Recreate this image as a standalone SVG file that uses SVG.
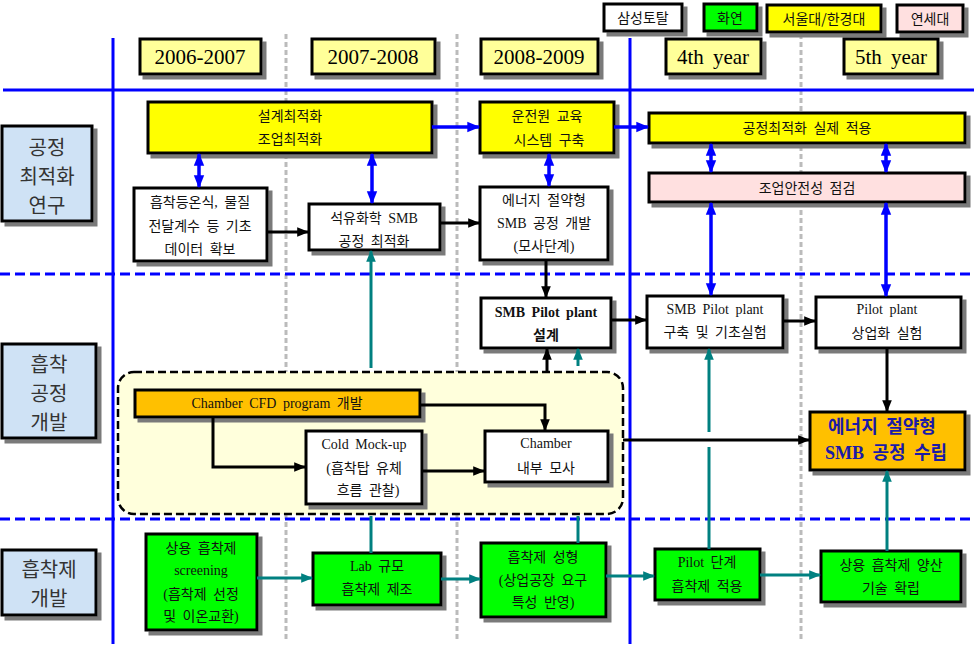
<svg xmlns="http://www.w3.org/2000/svg" width="974" height="648" viewBox="0 0 974 648">
<defs>
<filter id="sh" x="-10%" y="-10%" width="130%" height="140%"><feDropShadow dx="4" dy="4" stdDeviation="0.6" flood-color="#7a7a7a" flood-opacity="1"/></filter>
<marker id="ak" viewBox="0 0 10 8" refX="9" refY="4" markerWidth="12" markerHeight="10" markerUnits="userSpaceOnUse" orient="auto-start-reverse"><path d="M0,0L10,4L0,8z" fill="#000"/></marker>
<marker id="ab" viewBox="0 0 10 8" refX="9" refY="4" markerWidth="13" markerHeight="12" markerUnits="userSpaceOnUse" orient="auto-start-reverse"><path d="M0,0L10,4L0,8z" fill="#0000FF"/></marker>
<marker id="at" viewBox="0 0 10 8" refX="9" refY="4" markerWidth="12" markerHeight="10" markerUnits="userSpaceOnUse" orient="auto-start-reverse"><path d="M0,0L10,4L0,8z" fill="#008080"/></marker>
</defs>
<style>
.bx{stroke:#000;stroke-width:3;filter:url(#sh)}
.w{fill:#fff}.y{fill:#FFFF00}.ly{fill:#FFFF99}.g{fill:#00FF00}.o{fill:#FFC000}.p{fill:#FFE0E0}.lb{fill:#CFE2F5}
.t{font-family:"Liberation Serif","Noto Sans CJK KR",serif;font-size:14px;text-anchor:middle;dominant-baseline:central;fill:#111;word-spacing:3px}
.fin{font-family:"Liberation Serif","Noto Sans CJK KR",serif;font-size:18px;font-weight:bold;text-anchor:middle;dominant-baseline:central;fill:#1a1aa8;word-spacing:4px}
.k{font-family:"Noto Sans CJK KR",sans-serif;font-size:14px;text-anchor:middle;dominant-baseline:central;fill:#111}
.cat{font-family:"Noto Sans CJK KR",sans-serif;font-size:20px;text-anchor:middle;dominant-baseline:central;fill:#333}
.yr{font-family:"Liberation Serif",serif;font-size:21px;text-anchor:middle;dominant-baseline:central;fill:#000;word-spacing:4px}
.bl{stroke:#0000FF;stroke-width:3;fill:none}
.cb{stroke:#000;stroke-width:3;fill:none}
.cbl{stroke:#0000FF;stroke-width:3.5;fill:none}
.ct{stroke:#008080;stroke-width:3;fill:none}
</style>
<rect width="974" height="648" fill="#fff"/>
<g id="grid">
<line x1="286" y1="34" x2="286" y2="640" stroke="#BBBBBB" stroke-width="3" stroke-dasharray="5,3"/>
<line x1="457" y1="34" x2="457" y2="640" stroke="#BBBBBB" stroke-width="3" stroke-dasharray="5,3"/>
<line x1="801" y1="34" x2="801" y2="640" stroke="#BBBBBB" stroke-width="3" stroke-dasharray="5,3"/>
<line x1="113" y1="38" x2="113" y2="644" class="bl"/>
<line x1="630" y1="38" x2="630" y2="644" class="bl"/>
<line x1="3" y1="90" x2="974" y2="90" class="bl"/>
<line x1="0" y1="274" x2="974" y2="274" class="bl" stroke-dasharray="10,5"/>
<line x1="0" y1="519" x2="974" y2="519" class="bl" stroke-dasharray="10,5"/>
</g>
<g id="legend">
<g id="leg-samsung"><rect class="bx w" x="604" y="4" width="78" height="27"/><text class="k" x="643" y="17">삼성토탈</text></g>
<g id="leg-hwayeon"><rect class="bx g" x="704" y="4" width="53" height="27"/><text class="k" x="730" y="17">화연</text></g>
<g id="leg-snu"><rect class="bx y" x="767" y="5" width="114" height="27"/><text class="k" x="824" y="18">서울대/한경대</text></g>
<g id="leg-yonsei"><rect class="bx p" x="897" y="5" width="66" height="27"/><text class="k" x="930" y="18">연세대</text></g>
</g>
<g id="years">
<g id="y1"><rect class="bx ly" x="140" y="39" width="121" height="35"/><text class="yr" x="200" y="57">2006-2007</text></g>
<g id="y2"><rect class="bx ly" x="312" y="39" width="123" height="35"/><text class="yr" x="373" y="57">2007-2008</text></g>
<g id="y3"><rect class="bx ly" x="481" y="39" width="117" height="35"/><text class="yr" x="539" y="57">2008-2009</text></g>
<g id="y4"><rect class="bx ly" x="666" y="39" width="95" height="35"/><text class="yr" x="713" y="57">4th year</text></g>
<g id="y5"><rect class="bx ly" x="844" y="39" width="94" height="35"/><text class="yr" x="891" y="57">5th year</text></g>
</g>
<g id="cat1"><rect class="bx lb" x="2" y="126" width="90" height="95"/><text class="cat" x="47" y="146">공정</text><text class="cat" x="47" y="175">최적화</text><text class="cat" x="47" y="204">연구</text></g>
<g id="cat2"><rect class="bx lb" x="2" y="344" width="94" height="94"/><text class="cat" x="49" y="363">흡착</text><text class="cat" x="49" y="392">공정</text><text class="cat" x="49" y="421">개발</text></g>
<g id="cat3"><rect class="bx lb" x="2" y="550" width="94" height="65"/><text class="cat" x="49" y="568">흡착제</text><text class="cat" x="49" y="597">개발</text></g>

<g id="n-design-opt"><rect class="bx y" x="148" y="102" width="284" height="51"/><text class="t" x="290" y="116">설계최적화</text><text class="t" x="290" y="139">조업최적화</text></g>
<g id="n-operator"><rect class="bx y" x="480" y="102" width="134" height="51"/><text class="t" x="547" y="116">운전원 교육</text><text class="t" x="549" y="140">시스템 구축</text></g>
<g id="n-apply"><rect class="bx y" x="649" y="113" width="316" height="30"/><text class="t" x="807" y="128">공정최적화 실제 적용</text></g>
<g id="n-safety"><rect class="bx p" x="649" y="173" width="316" height="29"/><text class="t" x="807" y="188">조업안전성 점검</text></g>
<g id="n-basic"><rect class="bx w" x="134" y="188" width="133" height="73"/><text class="t" x="200" y="202">흡착등온식, 물질</text><text class="t" x="200" y="226">전달계수 등 기초</text><text class="t" x="200" y="249">데이터 확보</text></g>
<g id="n-petro"><rect class="bx w" x="309" y="204" width="131" height="46"/><text class="t" x="374" y="218">석유화학 SMB</text><text class="t" x="374" y="241">공정 최적화</text></g>
<g id="n-energy-sim"><rect class="bx w" x="480" y="187" width="128" height="73"/><text class="t" x="544" y="200">에너지 절약형</text><text class="t" x="544" y="223">SMB 공정 개발</text><text class="t" x="544" y="246">(모사단계)</text></g>
<g id="n-pilot-design"><rect class="bx w" x="481" y="298" width="130" height="50"/><text class="t" x="546" y="312" font-weight="bold">SMB Pilot plant</text><text class="t" x="546" y="335" font-weight="bold">설계</text></g>
<g id="n-pilot-build"><rect class="bx w" x="647" y="296" width="136" height="52"/><text class="t" x="715" y="309">SMB Pilot plant</text><text class="t" x="715" y="332">구축 및 기초실험</text></g>
<g id="n-pilot-comm"><rect class="bx w" x="816" y="297" width="145" height="51"/><text class="t" x="887" y="309">Pilot plant</text><text class="t" x="887" y="333">상업화 실험</text></g>
<g id="n-final"><rect class="bx o" x="810" y="412" width="155" height="58"/><text class="fin" x="882" y="427">에너지 절약형</text><text class="fin" x="886" y="453">SMB 공정 수립</text></g>

<g id="region"><rect x="118" y="372" width="505" height="142" rx="16" fill="#FFFFDC" stroke="#000" stroke-width="2.5" stroke-dasharray="8,4"/></g>
<g id="n-cfd"><rect class="bx o" x="135" y="390" width="285" height="27"/><text class="t" x="277" y="403">Chamber CFD program 개발</text></g>
<g id="n-cold"><rect class="bx w" x="306" y="431" width="116" height="73"/><text class="t" x="364" y="444">Cold Mock-up</text><text class="t" x="364" y="468">(흡착탑 유체</text><text class="t" x="368" y="490">흐름 관찰)</text></g>
<g id="n-chamber"><rect class="bx w" x="485" y="431" width="123" height="51"/><text class="t" x="546" y="443">Chamber</text><text class="t" x="546" y="468">내부 모사</text></g>

<g id="n-screen"><rect class="bx g" x="146" y="534" width="111" height="96"/><text class="t" x="201" y="548">상용 흡착제</text><text class="t" x="201" y="570">screening</text><text class="t" x="201" y="594">(흡착제 선정</text><text class="t" x="201" y="616">및 이온교환)</text></g>
<g id="n-lab"><rect class="bx g" x="313" y="553" width="128" height="52"/><text class="t" x="377" y="566">Lab 규모</text><text class="t" x="377" y="589">흡착제 제조</text></g>
<g id="n-shape"><rect class="bx g" x="481" y="543" width="125" height="74"/><text class="t" x="543" y="557">흡착제 성형</text><text class="t" x="543" y="580">(상업공장 요구</text><text class="t" x="543" y="602">특성 반영)</text></g>
<g id="n-pilot-ads"><rect class="bx g" x="655" y="549" width="105" height="51"/><text class="t" x="707" y="562">Pilot 단계</text><text class="t" x="707" y="586">흡착제 적용</text></g>
<g id="n-mass"><rect class="bx g" x="821" y="551" width="140" height="51"/><text class="t" x="891" y="565">상용 흡착제 양산</text><text class="t" x="891" y="588">기술 확립</text></g>

<g id="connectors">
<line class="cbl" x1="432" y1="127" x2="479" y2="127" marker-end="url(#ab)"/>
<line class="cbl" x1="614" y1="127" x2="648" y2="127" marker-end="url(#ab)"/>
<line class="cbl" x1="199" y1="154" x2="199" y2="187" marker-start="url(#ab)" marker-end="url(#ab)"/>
<line class="cbl" x1="372" y1="154" x2="372" y2="203" marker-start="url(#ab)" marker-end="url(#ab)"/>
<line class="cbl" x1="549" y1="154" x2="549" y2="186" marker-start="url(#ab)" marker-end="url(#ab)"/>
<line class="cbl" x1="711" y1="144" x2="711" y2="172" marker-start="url(#ab)" marker-end="url(#ab)"/>
<line class="cbl" x1="886" y1="144" x2="886" y2="172" marker-start="url(#ab)" marker-end="url(#ab)"/>
<line class="cbl" x1="711" y1="203" x2="711" y2="295" marker-start="url(#ab)" marker-end="url(#ab)"/>
<line class="cbl" x1="886" y1="203" x2="886" y2="296" marker-start="url(#ab)" marker-end="url(#ab)"/>
<line class="cb" x1="267" y1="232" x2="308" y2="232" marker-end="url(#ak)"/>
<line class="cb" x1="440" y1="223" x2="479" y2="223" marker-end="url(#ak)"/>
<line class="cb" x1="546" y1="261" x2="546" y2="297" marker-end="url(#ak)"/>
<line class="cb" x1="611" y1="320" x2="646" y2="320" marker-end="url(#ak)"/>
<line class="cb" x1="783" y1="321" x2="815" y2="321" marker-end="url(#ak)"/>
<line class="cb" x1="887" y1="348" x2="887" y2="411" marker-end="url(#ak)"/>
<line class="cb" x1="547" y1="373" x2="547" y2="349" marker-end="url(#ak)"/>
<line class="cb" x1="623" y1="440" x2="809" y2="440" marker-end="url(#ak)"/>
<polyline class="cb" points="213,417 213,467 305,467" marker-end="url(#ak)"/>
<polyline class="cb" points="420,405 545,405 545,430" marker-end="url(#ak)"/>
<line class="cb" x1="422" y1="471" x2="484" y2="471" marker-end="url(#ak)"/>
<line class="ct" x1="257" y1="578" x2="312" y2="578" marker-end="url(#at)"/>
<line class="ct" x1="441" y1="579" x2="480" y2="579" marker-end="url(#at)"/>
<line class="ct" x1="606" y1="576" x2="654" y2="576" marker-end="url(#at)"/>
<line class="ct" x1="760" y1="575" x2="820" y2="575" marker-end="url(#at)"/>
<line class="ct" x1="371" y1="553" x2="371" y2="516"/>
<line class="ct" x1="371" y1="368" x2="371" y2="251" marker-end="url(#at)"/>
<line class="ct" x1="578" y1="543" x2="578" y2="516"/>
<line class="ct" x1="578" y1="366" x2="578" y2="349" marker-end="url(#at)"/>
<line class="ct" x1="709" y1="549" x2="709" y2="447"/>
<line class="ct" x1="709" y1="432" x2="709" y2="349" marker-end="url(#at)"/>
<line class="ct" x1="887" y1="551" x2="887" y2="471" marker-end="url(#at)"/>
</g>
</svg>
